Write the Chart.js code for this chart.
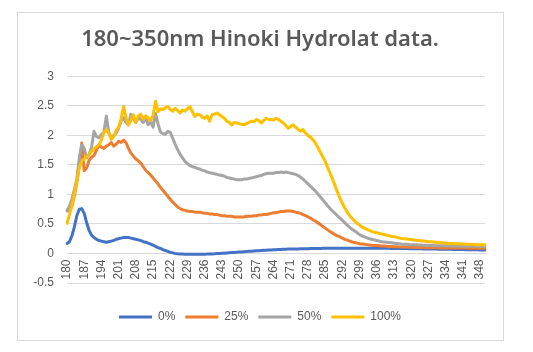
<!DOCTYPE html>
<html>
<head>
<meta charset="utf-8">
<title>Hinoki Hydrolat</title>
<script src="https://cdn.jsdelivr.net/npm/chart.js@4.4.1/dist/chart.umd.min.js"></script>
<style>
  body { margin: 0; background: #fff; }
  #wrap { width: 533px; height: 352px; }
</style>
</head>
<body>
<div id="wrap"><canvas id="specLine" width="533" height="352"></canvas></div>
<script>
  // wavelength categories, one per nm
  let wavelengths = [];
  for (let nm = 180; nm <= 350; nm++) wavelengths.push(nm);

  // labels shown under the axis
  let tickLabels = [180, 187, 194, 201, 208, 215, 222, 229, 236, 243, 250, 257, 264,
    271, 278, 285, 292, 299, 306, 313, 320, 327, 334, 341, 348];

  let seriesNames = ["0%", "25%", "50%", "100%"];
  let seriesColors = ["#4472C4", "#ED7D31", "#A5A5A5", "#FFC000"];

  // absorbance (180..350 nm)
  let abs0 = [
    0.17,0.20,0.30,0.45,0.64,0.75,0.76,0.68,0.52,0.39,
    0.31,0.27,0.24,0.22,0.21,0.20,0.19,0.20,0.21,0.22,
    0.24,0.25,0.26,0.27,0.27,0.27,0.26,0.25,0.24,0.23,
    0.22,0.20,0.19,0.175,0.16,0.14,0.12,0.10,0.085,0.065,
    0.05,0.035,0.02,0.01,0.0,-0.005,-0.008,-0.01,-0.012,-0.014,
    -0.015,-0.015,-0.015,-0.014,-0.013,-0.012,-0.011,-0.01,-0.008,-0.007,
    -0.005,-0.002,0.0,0.003,0.006,0.009,0.012,0.015,0.018,0.021,
    0.024,0.027,0.03,0.033,0.036,0.039,0.042,0.045,0.048,0.051,
    0.054,0.056,0.058,0.06,0.062,0.064,0.066,0.068,0.07,0.072,
    0.074,0.075,0.076,0.077,0.078,0.079,0.08,0.081,0.082,0.083,
    0.084,0.085,0.086,0.086,0.087,0.087,0.088,0.088,0.089,0.089,
    0.09,0.09,0.09,0.09,0.09,0.09,0.09,0.09,0.09,0.09,
    0.09,0.09,0.09,0.09,0.09,0.09,0.089,0.089,0.088,0.088,
    0.087,0.087,0.086,0.086,0.085,0.085,0.084,0.083,0.083,0.082,
    0.081,0.081,0.08,0.079,0.079,0.078,0.077,0.076,0.076,0.075,
    0.074,0.073,0.073,0.072,0.071,0.07,0.07,0.069,0.068,0.067,
    0.067,0.066,0.065,0.064,0.064,0.063,0.062,0.062,0.061,0.06,
    0.06
  ];

  let abs25 = [
    0.73,0.72,0.80,0.98,1.20,1.50,1.87,1.40,1.45,1.58,
    1.63,1.66,1.75,1.84,1.80,1.78,1.82,1.84,1.88,1.82,
    1.85,1.90,1.88,1.92,1.88,1.78,1.70,1.65,1.60,1.57,
    1.53,1.47,1.41,1.37,1.33,1.28,1.23,1.18,1.12,1.07,
    1.02,0.97,0.92,0.87,0.83,0.79,0.76,0.74,0.73,0.72,
    0.71,0.71,0.70,0.70,0.70,0.69,0.68,0.68,0.67,0.67,
    0.66,0.66,0.65,0.64,0.64,0.63,0.63,0.63,0.62,0.62,
    0.62,0.62,0.62,0.63,0.63,0.63,0.64,0.64,0.65,0.65,
    0.66,0.66,0.67,0.68,0.69,0.69,0.70,0.71,0.71,0.72,
    0.72,0.72,0.71,0.70,0.69,0.68,0.66,0.64,0.62,0.60,
    0.57,0.55,0.52,0.49,0.46,0.43,0.40,0.37,0.345,0.32,
    0.30,0.28,0.26,0.24,0.225,0.21,0.195,0.185,0.175,0.165,
    0.16,0.155,0.15,0.145,0.14,0.137,0.134,0.131,0.128,0.125,
    0.122,0.12,0.118,0.116,0.114,0.112,0.11,0.109,0.108,0.106,
    0.105,0.104,0.103,0.102,0.101,0.10,0.099,0.098,0.097,0.097,
    0.096,0.095,0.095,0.094,0.094,0.093,0.093,0.092,0.092,0.092,
    0.091,0.091,0.091,0.09,0.09,0.09,0.09,0.09,0.09,0.09,
    0.09
  ];

  let abs50 = [
    0.72,0.80,0.92,1.08,1.26,1.62,1.84,1.78,1.62,1.68,
    1.80,2.07,1.98,1.96,2.02,2.05,2.33,2.05,1.97,2.00,
    2.04,2.12,2.24,2.30,2.22,2.18,2.36,2.28,2.22,2.30,
    2.27,2.22,2.30,2.18,2.24,2.14,2.37,2.20,2.06,2.03,
    2.02,2.07,2.05,1.95,1.85,1.76,1.68,1.62,1.56,1.52,
    1.49,1.47,1.46,1.44,1.43,1.41,1.40,1.38,1.37,1.36,
    1.35,1.34,1.33,1.32,1.31,1.29,1.28,1.27,1.26,1.25,
    1.25,1.25,1.26,1.26,1.27,1.28,1.29,1.30,1.31,1.32,
    1.34,1.35,1.36,1.36,1.36,1.37,1.37,1.38,1.37,1.38,
    1.37,1.36,1.35,1.34,1.32,1.29,1.26,1.22,1.18,1.14,
    1.10,1.06,1.01,0.96,0.91,0.86,0.81,0.76,0.72,0.68,
    0.64,0.60,0.56,0.52,0.48,0.44,0.41,0.38,0.35,0.32,
    0.30,0.28,0.265,0.25,0.24,0.23,0.22,0.21,0.20,0.195,
    0.19,0.185,0.18,0.175,0.17,0.165,0.16,0.158,0.155,0.152,
    0.15,0.148,0.146,0.144,0.142,0.14,0.138,0.136,0.135,0.134,
    0.133,0.132,0.131,0.13,0.129,0.128,0.127,0.126,0.125,0.125,
    0.124,0.124,0.123,0.123,0.122,0.122,0.121,0.121,0.12,0.12,
    0.12
  ];

  let abs100 = [
    0.51,0.66,0.82,1.02,1.22,1.45,1.56,1.60,1.64,1.68,
    1.73,1.77,1.81,1.84,1.92,2.05,2.10,2.04,1.93,1.98,
    2.08,2.14,2.28,2.49,2.30,2.18,2.25,2.35,2.22,2.33,
    2.36,2.27,2.33,2.30,2.25,2.34,2.58,2.40,2.45,2.44,
    2.47,2.49,2.44,2.41,2.46,2.42,2.38,2.43,2.41,2.45,
    2.49,2.40,2.32,2.36,2.35,2.31,2.29,2.33,2.24,2.35,
    2.36,2.38,2.35,2.32,2.29,2.24,2.22,2.18,2.22,2.21,
    2.20,2.19,2.18,2.20,2.22,2.24,2.23,2.27,2.25,2.21,
    2.25,2.29,2.27,2.27,2.26,2.29,2.27,2.24,2.21,2.17,
    2.12,2.15,2.18,2.14,2.10,2.07,2.10,2.04,2.00,1.97,
    1.93,1.87,1.80,1.72,1.64,1.56,1.46,1.36,1.26,1.15,
    1.04,0.94,0.85,0.77,0.70,0.64,0.59,0.55,0.51,0.48,
    0.45,0.43,0.41,0.39,0.37,0.36,0.35,0.34,0.33,0.32,
    0.31,0.30,0.29,0.285,0.275,0.265,0.255,0.25,0.245,0.24,
    0.235,0.23,0.225,0.22,0.215,0.21,0.205,0.20,0.20,0.195,
    0.19,0.185,0.18,0.18,0.175,0.175,0.17,0.17,0.165,0.165,
    0.16,0.16,0.16,0.155,0.155,0.155,0.15,0.15,0.15,0.15,
    0.15
  ];

  let allSeries = [abs0, abs25, abs50, abs100];

  // white page + thin frame round the chart, like the spreadsheet chart box
  const chartFrame = {
    id: 'chartFrame',
    beforeDraw(chart) {
      const c = chart.ctx;
      c.save();
      c.fillStyle = "#ffffff";
      c.fillRect(0, 0, chart.width, chart.height);
      c.strokeStyle = "#d9d9d9";
      c.lineWidth = 1;
      c.strokeRect(17.5, 12.5, 486, 328);
      c.restore();
    }
  };

  let datasets = allSeries.map((vals, i) => ({
    label: seriesNames[i],
    data: vals,
    borderColor: seriesColors[i],
    backgroundColor: seriesColors[i],
    borderWidth: 3,
    pointRadius: 0,
    tension: 0,
    borderJoinStyle: 'round',
    borderCapStyle: 'round',
    fill: false,
    order: 3 - i   // 100% drawn on top
  }));

  // empty axes, only there to keep room free (right margin, space under plot)
  const spacer = (size) => ({
    type: 'linear',
    display: true,
    grid: { display: false, drawTicks: false },
    border: { display: false },
    ticks: { display: false },
    afterFit: size
  });

  let ctxSpec = document.getElementById("specLine");

  var specChart = new Chart(ctxSpec, {
    type: 'line',
    data: {
      labels: wavelengths,
      datasets: datasets
    },
    options: {
      responsive: false,
      animation: false,
      devicePixelRatio: 1,
      layout: {
        padding: { left: 17, right: 30, top: 12, bottom: 19 }
      },
      plugins: {
        title: {
          display: true,
          text: '180~350nm Hinoki Hydrolat data.',
          color: '#595959',
          font: { family: 'Noto Sans', size: 22, weight: '600' },
          padding: { top: 15, bottom: 23 }
        },
        legend: {
          position: 'bottom',
          labels: {
            usePointStyle: true,
            pointStyle: 'line',
            pointStyleWidth: 33,
            color: '#595959',
            font: { family: 'Liberation Sans', size: 12 },
            padding: 10,
            sort: (a, b) => a.datasetIndex - b.datasetIndex
          }
        },
        tooltip: { enabled: false }
      },
      scales: {
        x: {
          position: { y: 0 },
          grid: { display: false, drawTicks: false },
          border: { display: true, color: '#d9d9d9', width: 1 },
          ticks: {
            autoSkip: false,
            minRotation: 90,
            maxRotation: 90,
            padding: 6,
            color: '#595959',
            font: { family: 'Liberation Sans', size: 12 },
            callback: function (val, index) {
              let nm = wavelengths[index];
              return tickLabels.includes(nm) ? String(nm) : null;
            }
          }
        },
        xSpace: Object.assign(spacer((s) => { s.height = 18; }), { axis: 'x', position: 'bottom' }),
        ySpace: Object.assign(spacer((s) => { s.width = 18; }), { axis: 'y', position: 'right' }),
        y: {
          min: -0.5,
          max: 3,
          afterFit: (scale) => { scale.width = 50; },
          grid: { color: '#d9d9d9', lineWidth: 1, drawTicks: false },
          border: { display: false },
          ticks: {
            stepSize: 0.5,
            padding: 13,
            color: '#595959',
            font: { family: 'Liberation Sans', size: 12 },
            callback: (v) => String(Math.round(v * 10) / 10)
          }
        }
      }
    },
    plugins: [chartFrame]
  });
</script>
</body>
</html>
